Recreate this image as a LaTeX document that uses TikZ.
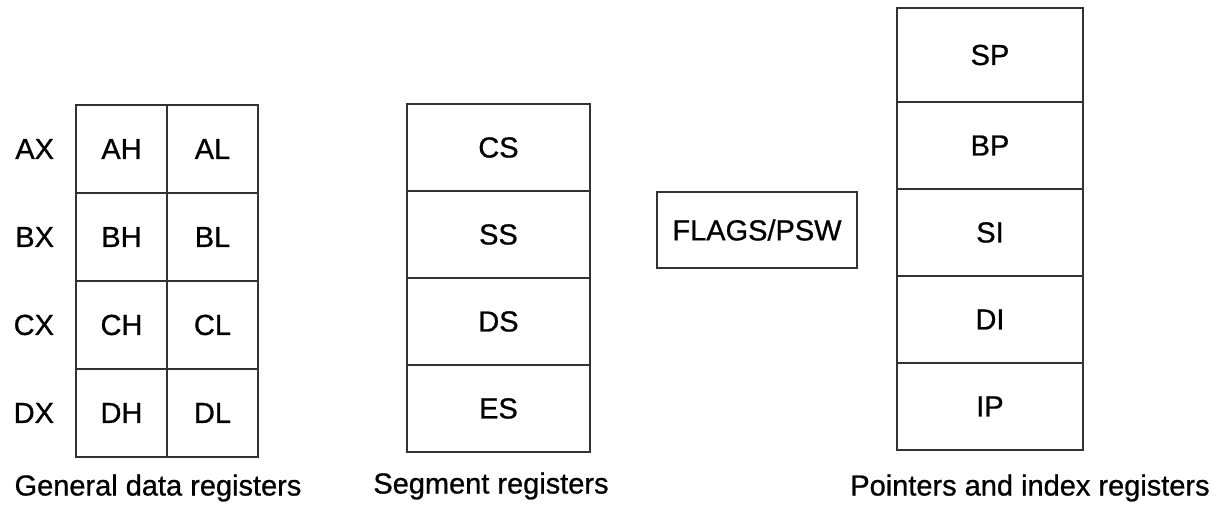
\documentclass[tikz,border=0pt]{standalone}
\usepackage{fontspec}
\setmainfont[FakeBold=0.8]{Liberation Sans}
\usetikzlibrary{positioning}

\begin{document}
\begin{tikzpicture}[x=0.02cm, y=-0.02cm, font=\fontsize{16.5}{19}\selectfont,
    every node/.style={inner sep=0pt, outer sep=0pt},
    cell/.style={draw=black!80, line width=0.8pt, minimum width=1.82cm, minimum height=1.76cm},
    seg/.style={cell, minimum width=3.66cm, minimum height=1.74cm},
    ptr/.style={cell, minimum width=3.72cm, minimum height=1.74cm}]
  \useasboundingbox (0,0) rectangle (1211,505);
  % general data registers
  \node[cell, anchor=north west] (ah) at (76,105) {AH};
  \node[cell, right=0pt of ah] (al) {AL};
  \node[cell, below=0pt of ah] (bh) {BH};
  \node[cell, right=0pt of bh] (bl) {BL};
  \node[cell, below=0pt of bh] (ch) {CH};
  \node[cell, right=0pt of ch] (cl) {CL};
  \node[cell, below=0pt of ch] (dh) {DH};
  \node[cell, right=0pt of dh] (dl) {DL};
  \node[left=0.44cm of ah] (ax) {AX};
  \node[left=0.44cm of bh] (bx) {BX};
  \node[left=0.44cm of ch] (cx) {CX};
  \node[left=0.44cm of dh] (dx) {DX};
  \node (gencap) at (158,488) {General data registers};
  % segment registers
  \node[seg, anchor=north west] (cs) at (407,104) {CS};
  \node[seg, below=0pt of cs] (ss) {SS};
  \node[seg, below=0pt of ss] (ds) {DS};
  \node[seg, below=0pt of ds] (es) {ES};
  \node (segcap) at (491,486) {Segment registers};
  % flags
  \node[cell, minimum width=4cm, minimum height=1.52cm] (flags) at (757,230) {FLAGS/PSW};
  % pointers and index registers
  \node[ptr, anchor=north west, minimum height=1.88cm] (sp) at (897,8) {SP};
  \node[ptr, below=0pt of sp] (bp) {BP};
  \node[ptr, below=0pt of bp] (si) {SI};
  \node[ptr, below=0pt of si] (di) {DI};
  \node[ptr, below=0pt of di] (ip) {IP};
  \node (ptrcap) at (1030,488) {Pointers and index registers};
\end{tikzpicture}
\end{document}
